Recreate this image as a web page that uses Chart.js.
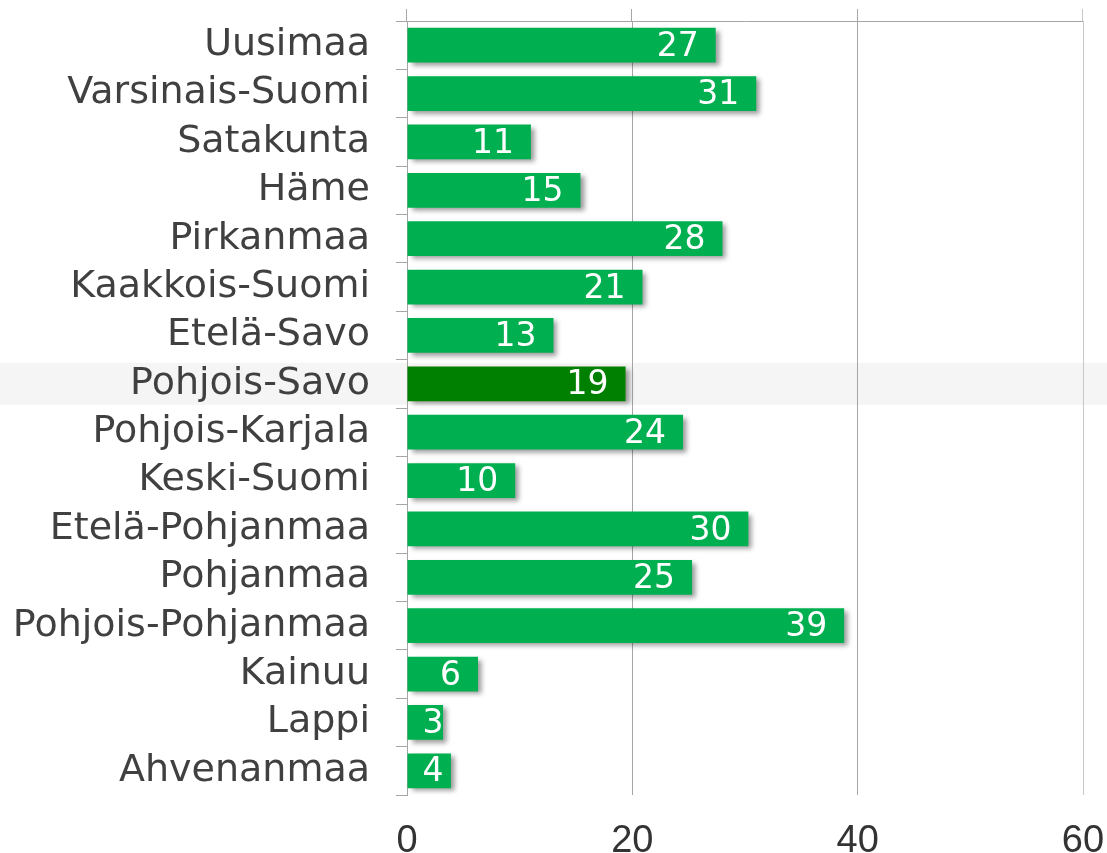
<!DOCTYPE html>
<html>
<head>
<meta charset="utf-8">
<script src="https://cdn.jsdelivr.net/npm/chart.js@4"></script>
<style>
    html, body { margin: 0; padding: 0; background: #fff; }
    #wrap { width: 1107px; height: 853px; position: relative; }
</style>
</head>
<body>
<div id="wrap"><canvas id="regionChart"></canvas></div>
<script>
// Regions and bar values
const regions = ['Uusimaa', 'Varsinais-Suomi', 'Satakunta', 'Häme', 'Pirkanmaa', 'Kaakkois-Suomi',
    'Etelä-Savo', 'Pohjois-Savo', 'Pohjois-Karjala', 'Keski-Suomi', 'Etelä-Pohjanmaa', 'Pohjanmaa',
    'Pohjois-Pohjanmaa', 'Kainuu', 'Lappi', 'Ahvenanmaa'];
const values = [27.4, 31.0, 11.0, 15.4, 28.0, 20.9, 13.0, 19.4, 24.5, 9.6, 30.3, 25.3, 38.8, 6.3, 3.2, 3.9];
const valueLabels = [27, 31, 11, 15, 28, 21, 13, 19, 24, 10, 30, 25, 39, 6, 3, 4];
const xTicks = [0, 20, 40, 60];
const highlighted = 'Pohjois-Savo';

const GREEN = '#00b050';
const DARK_GREEN = '#008000';
const GRID = '#a6a6a6';

// light band behind the highlighted row
const bandPlugin = {
    id: 'band',
    beforeDraw(chart) {
        const y = chart.scales.y;
        const idx = regions.indexOf(highlighted);
        const cy = y.getPixelForValue(idx);
        const ctx = chart.ctx;
        ctx.save();
        ctx.fillStyle = '#f5f5f5';
        ctx.fillRect(0, cy - 21, chart.width, 42);
        ctx.restore();
    }
};

// grid lines poke up a bit above the top border
const gridTopPlugin = {
    id: 'gridTop',
    beforeDatasetsDraw(chart) {
        const x = chart.scales.x;
        const ctx = chart.ctx;
        ctx.save();
        ctx.lineWidth = 1;
        x.ticks.forEach((t, i) => {
            const px = Math.round(x.getPixelForValue(t.value)) - 0.5;
            ctx.strokeStyle = i === x.ticks.length - 1 ? '#c8c8c8' : GRID;
            ctx.beginPath();
            ctx.moveTo(px, 9);
            ctx.lineTo(px, chart.chartArea.top);
            ctx.stroke();
        });
        ctx.restore();
    }
};

// drop shadow on the bars
const shadowPlugin = {
    id: 'barShadow',
    beforeDatasetDraw(chart) {
        const ctx = chart.ctx;
        ctx.save();
        ctx.shadowColor = 'rgba(0, 0, 0, 0.4)';
        ctx.shadowBlur = 5;
        ctx.shadowOffsetX = 4;
        ctx.shadowOffsetY = 3;
    },
    afterDatasetDraw(chart) {
        chart.ctx.restore();
    }
};

// white value labels inside the bar ends
const valueLabelPlugin = {
    id: 'valueLabels',
    afterDatasetsDraw(chart) {
        const ctx = chart.ctx;
        const meta = chart.getDatasetMeta(0);
        ctx.save();
        ctx.font = '33px "DejaVu Sans"';
        ctx.fillStyle = '#ffffff';
        ctx.textAlign = 'right';
        ctx.textBaseline = 'middle';
        meta.data.forEach((bar, i) => {
            const text = String(valueLabels[i]);
            const w = ctx.measureText(text).width;
            const x = Math.max(bar.x - 17, bar.base + 15 + w);
            ctx.fillText(text, x, bar.y + 2);
        });
        ctx.restore();
    }
};

new Chart(document.getElementById('regionChart'), {
    type: 'bar',
    data: {
        labels: regions,
        datasets: [{
            data: values,
            backgroundColor: regions.map(r => r === highlighted ? DARK_GREEN : GREEN),
            borderWidth: 0,
            barPercentage: 0.72,
            categoryPercentage: 1
        }]
    },
    options: {
        indexAxis: 'y',
        responsive: true,
        maintainAspectRatio: false,
        animation: false,
        layout: {
            padding: { top: 21, right: 24, left: 0, bottom: 0 }
        },
        plugins: {
            legend: { display: false },
            tooltip: { enabled: false }
        },
        scales: {
            x: {
                min: 0,
                max: 60,
                afterBuildTicks: (axis) => {
                    axis.ticks = xTicks.map(v => ({ value: v }));
                },
                afterFit: (axis) => {
                    axis.height = 58;
                    axis.paddingLeft = 0;
                    axis.paddingRight = 0;
                },
                border: { display: false },
                grid: {
                    color: (c) => c.index === xTicks.length - 1 ? '#c8c8c8' : GRID,
                    drawTicks: false
                },
                ticks: {
                    padding: 24,
                    color: '#333333',
                    font: { family: '"Liberation Sans", Arial', size: 38 }
                }
            },
            y: {
                afterFit: (axis) => {
                    axis.width = 407;
                    axis.paddingTop = 0;
                    axis.paddingBottom = 0;
                },
                border: { display: true, color: GRID },
                grid: {
                    offset: true,
                    color: (c) => c.index === 0 ? GRID : 'rgba(0,0,0,0)',
                    tickColor: GRID,
                    tickLength: 11
                },
                ticks: {
                    autoSkip: false,
                    padding: 26,
                    color: '#404040',
                    font: { family: '"DejaVu Sans", Verdana', size: 38 }
                }
            }
        }
    },
    plugins: [bandPlugin, gridTopPlugin, shadowPlugin, valueLabelPlugin]
});
</script>
</body>
</html>
